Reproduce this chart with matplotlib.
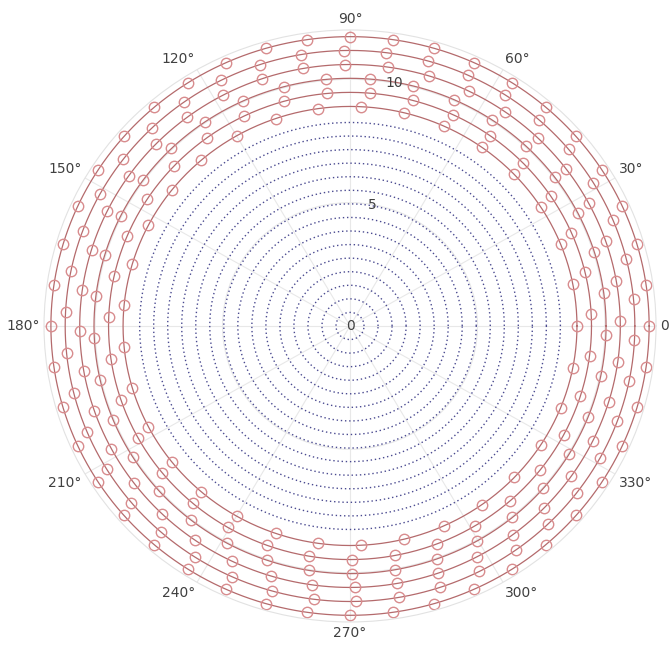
import numpy as np
import matplotlib
matplotlib.use("Agg")
import matplotlib.pyplot as plt

# values
r_max = 12
r_ticks = [0, 5, 10]
r_tick_labels = ["0", "5", "10"]
r_label_angle = 80
theta_ticks_deg = [0, 30, 60, 90, 120, 150, 180, 210, 240, 270, 300, 330]
theta_tick_labels = ["0°", "30°", "60°", "90°", "120°", "150°",
                     "180°", "210°", "240°", "270°", "300°", "330°"]

# blue dotted rings (inner)
blue_radii = [0.55, 1.1, 1.65, 2.2, 2.75, 3.3, 3.85, 4.4, 4.95, 5.5,
              6.05, 6.6, 7.15, 7.7, 8.25]

# red rings with circle markers (outer)
red_radii = [8.9, 9.47, 10.04, 10.6, 11.17, 11.73]
red_marker_counts = [33, 35, 37, 40, 42, 44]
red_phase_deg = [0, 3, -2, 1, -3, 0]

fig = plt.figure(figsize=(6.69, 6.46), dpi=100)
ax = fig.add_axes([0.0658, 0.0372, 0.9148, 0.9164], projection="polar")
ax.set_aspect("auto")

t_full = np.linspace(0, 2 * np.pi, 721)
for r in blue_radii:
    ax.plot(t_full, np.full(t_full.size, r), linestyle=(0, (1, 2)),
            color="#4a4a90", lw=1.0)

for r, n, ph in zip(red_radii, red_marker_counts, red_phase_deg):
    ax.plot(t_full, np.full(t_full.size, r), color="#b46a6c", lw=0.9)
    tm = np.deg2rad(ph) + np.arange(n) * 2 * np.pi / n
    ax.plot(tm, np.full(n, r), linestyle="none", marker="o", ms=7.5,
            mfc="none", mec="#d88c8e", mew=1.0)

ax.set_ylim(0, r_max)
ax.set_rticks(r_ticks)
ax.set_yticklabels([])
ax.set_xticks(np.deg2rad(theta_ticks_deg))
ax.set_xticklabels([])
ax.grid(True, color="#e8e8e8", lw=0.8)
ax.spines["polar"].set_color("#e2e2e2")

# theta labels just outside the rim
for deg, lab in zip(theta_ticks_deg, theta_tick_labels):
    c, s = np.cos(np.deg2rad(deg)), np.sin(np.deg2rad(deg))
    ha = "left" if c > 0.1 else ("right" if c < -0.1 else "center")
    va = "bottom" if s > 0.1 else ("top" if s < -0.1 else "center")
    ax.annotate(lab, xy=(np.deg2rad(deg), r_max), xytext=(3 * c, 3 * s),
                textcoords="offset points", ha=ha, va=va,
                fontsize=10, color="#404040", annotation_clip=False)

# radial labels
for r, lab in zip(r_ticks, r_tick_labels):
    ax.text(np.deg2rad(r_label_angle), r, lab, ha="center", va="center",
            fontsize=10, color="#404040")

fig.savefig("out.png", dpi=100)
